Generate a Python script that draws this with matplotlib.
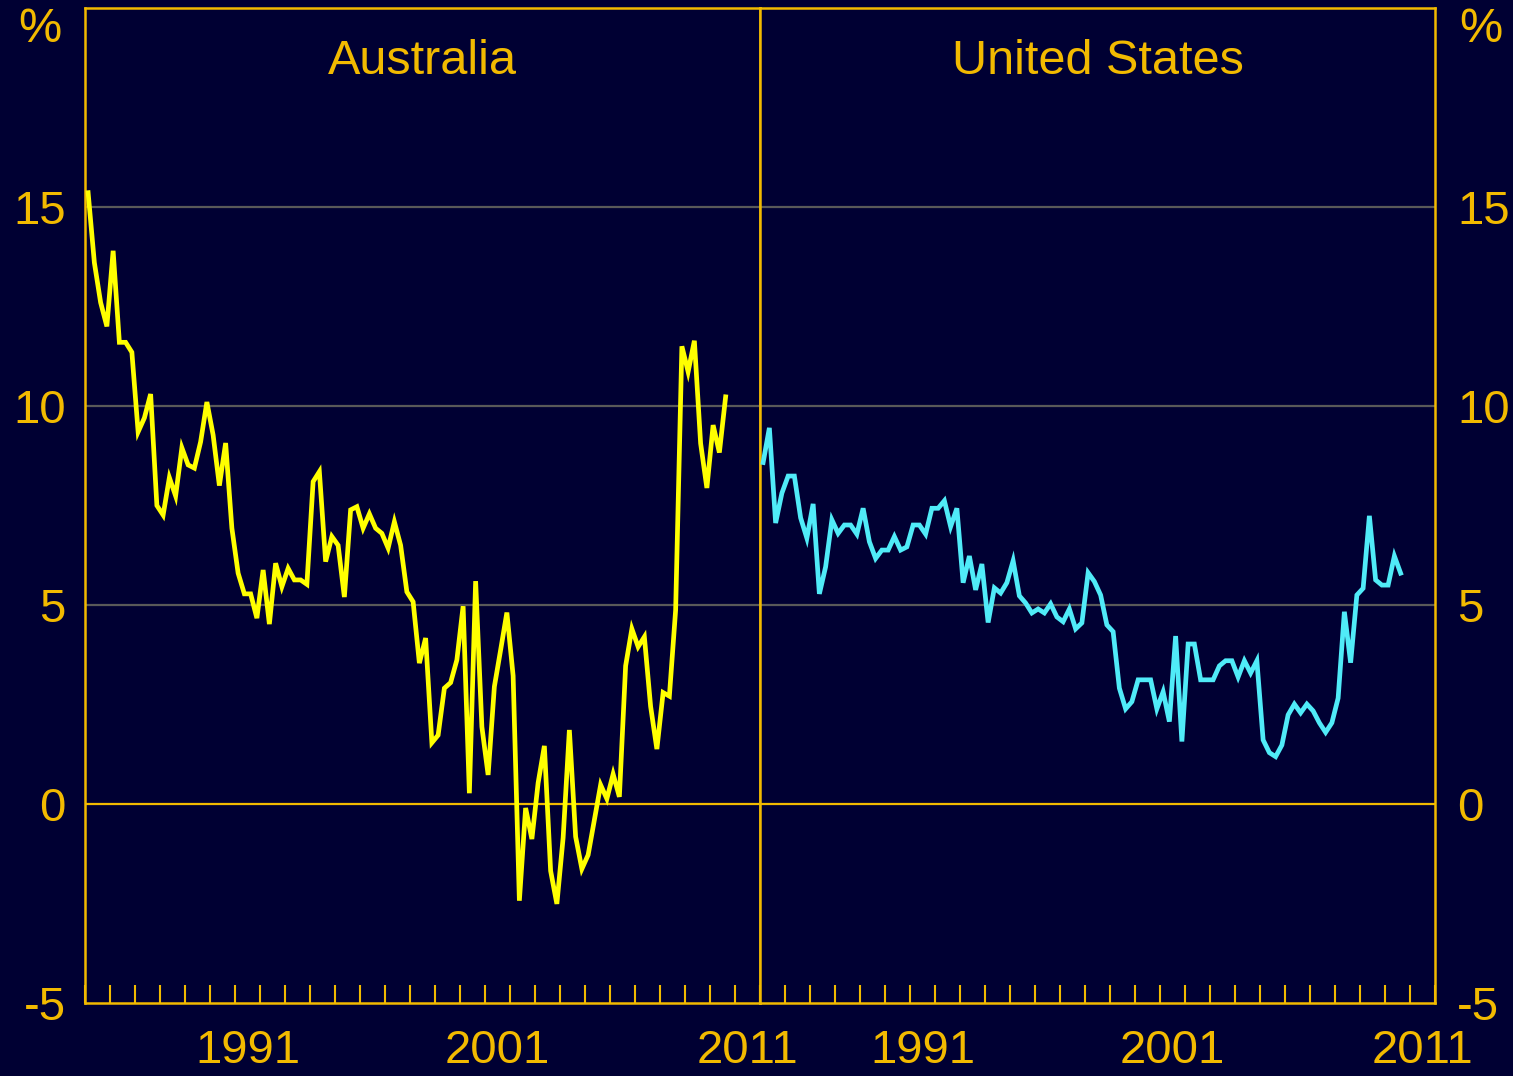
import numpy as np
import pandas as pd
import matplotlib
matplotlib.use("Agg")
import matplotlib.pyplot as plt

# quarterly data, 1985Q1 to 2010Q3
quarters = pd.period_range("1985Q1", "2010Q3", freq="Q")
australia = [
    15.36, 13.6, 12.6, 12.0, 13.9, 11.6, 11.6, 11.35, 9.35, 9.7,
    10.3, 7.5, 7.26, 8.2, 7.74, 8.95, 8.52, 8.44, 9.1, 10.1,
    9.27, 8.0, 9.07, 6.93, 5.8, 5.28, 5.28, 4.67, 5.88, 4.52,
    6.05, 5.46, 5.92, 5.63, 5.63, 5.52, 8.1, 8.35, 6.09, 6.72,
    6.5, 5.2, 7.39, 7.47, 6.93, 7.29, 6.93, 6.8, 6.43, 7.09,
    6.5, 5.33, 5.08, 3.54, 4.17, 1.54, 1.73, 2.91, 3.05, 3.62,
    4.97, 0.27, 5.6, 1.94, 0.73, 2.95, 3.87, 4.81, 3.22, -2.43,
    -0.1, -0.88, 0.53, 1.46, -1.68, -2.51, -0.85, 1.86, -0.82, -1.63,
    -1.28, -0.4, 0.48, 0.13, 0.75, 0.18, 3.47, 4.4, 3.95, 4.2,
    2.45, 1.38, 2.8, 2.71, 4.87, 11.5, 10.86, 11.64, 9.06, 7.94,
    9.52, 8.83, 10.23,
]
united_states = [
    8.58, 9.45, 7.06, 7.81, 8.24, 8.24, 7.19, 6.68, 7.54, 5.28,
    5.96, 7.14, 6.8, 7.01, 7.01, 6.78, 7.43, 6.59, 6.17, 6.38,
    6.38, 6.72, 6.38, 6.46, 7.01, 7.01, 6.78, 7.43, 7.43, 7.62,
    6.97, 7.43, 5.56, 6.23, 5.38, 6.03, 4.56, 5.43, 5.3, 5.56,
    6.11, 5.23, 5.05, 4.8, 4.9, 4.8, 5.03, 4.7, 4.58, 4.9,
    4.4, 4.55, 5.81, 5.59, 5.25, 4.5, 4.33, 2.91, 2.39, 2.57,
    3.12, 3.12, 3.12, 2.39, 2.82, 2.07, 4.22, 1.57, 4.02, 4.02,
    3.12, 3.12, 3.12, 3.47, 3.6, 3.6, 3.19, 3.6, 3.29, 3.6,
    1.61, 1.29, 1.19, 1.48, 2.24, 2.51, 2.29, 2.51, 2.34, 2.04,
    1.8, 2.04, 2.66, 4.83, 3.55, 5.25, 5.42, 7.24, 5.63, 5.5,
    5.5, 6.23, 5.8,
]
panel_titles = ["Australia", "United States"]
year_labels = [1991, 2001, 2011]
y_ticks = [-5, 0, 5, 10, 15]

BG = "#000033"
GOLD = "#F2BA00"
GRID = "#595959"
LINE_COLOURS = ["#FFFF00", "#50EBF8"]

plt.rcParams["font.family"] = ["Liberation Sans", "DejaVu Sans"]

# decimal year at the middle of each quarter
x = quarters.year + (quarters.quarter - 1) / 4 + 0.125

W, H = 1513, 1076
fig = plt.figure(figsize=(W / 100, H / 100), dpi=100, facecolor=BG)

left_px, top_px, bottom_px, panel_w = 85, 8, 1003, 675
for k, (series, title) in enumerate(zip([australia, united_states], panel_titles)):
    ax = fig.add_axes([(left_px + k * panel_w) / W, (H - bottom_px) / H,
                       panel_w / W, (bottom_px - top_px) / H])
    ax.set_facecolor(BG)
    ax.set_xlim(1985, 2012)
    ax.set_ylim(-5, 20)

    for v in [5, 10, 15]:
        ax.axhline(v, color=GRID, lw=1.6, zorder=1)
    ax.axhline(0, color=GOLD, lw=1.6, zorder=1)

    ax.plot(x, series, color=LINE_COLOURS[k], lw=3.4, zorder=3,
            solid_joinstyle="miter")

    for sp in ax.spines.values():
        sp.set_color(GOLD)
        sp.set_linewidth(1.8)

    # year ticks at boundaries, labels centred in the year
    ax.set_xticks(np.arange(1985, 2013))
    ax.set_xticklabels([])
    ax.set_xticks([y + 0.5 for y in year_labels], minor=True)
    ax.set_xticklabels([str(y) for y in year_labels], minor=True)
    ax.tick_params(axis="x", which="major", direction="in", length=13,
                   width=1.5, color=GOLD)
    ax.tick_params(axis="x", which="minor", length=0, pad=19,
                   labelsize=34, labelcolor=GOLD)

    ax.set_yticks(y_ticks)
    ax.set_yticklabels([str(v) for v in y_ticks])
    if k == 0:
        ax.tick_params(axis="y", length=0, pad=14, labelsize=34,
                       labelcolor=GOLD, left=True, labelleft=True)
    else:
        ax.tick_params(axis="y", length=0, pad=16, labelsize=34,
                       labelcolor=GOLD, left=False, labelleft=False,
                       right=True, labelright=True)

    ax.text(0.5, 0.934, title, transform=ax.transAxes, ha="center",
            va="baseline", fontsize=35, color=GOLD)

fig.text(40 / W, 1 - 30 / H, "%", ha="center", va="center",
         fontsize=35, color=GOLD)
fig.text(1481 / W, 1 - 30 / H, "%", ha="center", va="center",
         fontsize=35, color=GOLD)

fig.savefig("out.png", dpi=100, facecolor=BG)
